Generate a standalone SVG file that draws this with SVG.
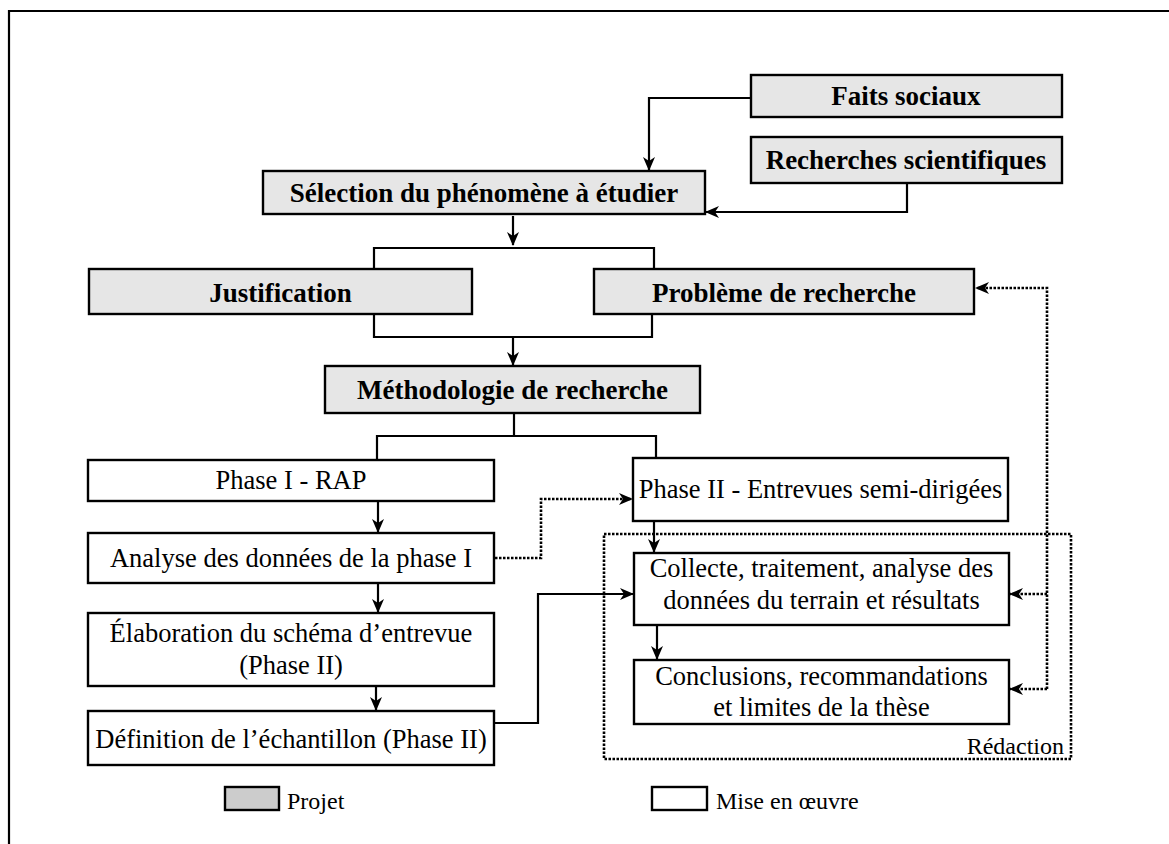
<svg xmlns="http://www.w3.org/2000/svg" width="1169" height="844" viewBox="0 0 1169 844" font-family="'Liberation Serif', 'DejaVu Serif', serif">
<style>
.p{fill:#e6e6e6;stroke:#000;stroke-width:2.4}
.m{fill:#ffffff;stroke:#000;stroke-width:2.4}
.t{font-size:26.5px;fill:#000;text-anchor:middle}
.b{font-weight:bold;font-size:27px}
.c{fill:none;stroke:#000;stroke-width:2.2}
.d{fill:none;stroke:#000;stroke-width:2.6;stroke-dasharray:2.5 1.5}
.lg{font-size:24px;fill:#000}
</style>
<defs>
<marker id="ar" viewBox="0 0 14 12" refX="13" refY="6" markerWidth="14" markerHeight="12" markerUnits="userSpaceOnUse" orient="auto">
<path d="M0,0 L14,6 L0,12 L4,6 z" fill="#000"/>
</marker>
</defs>
<rect x="0" y="0" width="1169" height="844" fill="#ffffff"/>
<path d="M9,844 V11 H1169" fill="none" stroke="#000" stroke-width="2.2"/>

<g id="faits"><rect class="p" x="751" y="75" width="311" height="42"/><text class="t b" x="906" y="105">Faits sociaux</text></g>
<g id="recherches"><rect class="p" x="751" y="137" width="311" height="46"/><text class="t b" x="906" y="169">Recherches scientifiques</text></g>
<g id="selection"><rect class="p" x="263" y="171" width="442" height="43"/><text class="t b" x="484" y="202">Sélection du phénomène à étudier</text></g>
<g id="justification"><rect class="p" x="89" y="269" width="383" height="45"/><text class="t b" x="280.5" y="302">Justification</text></g>
<g id="probleme"><rect class="p" x="594" y="269" width="380" height="45"/><text class="t b" x="784" y="302">Problème de recherche</text></g>
<g id="methodologie"><rect class="p" x="325" y="366" width="375" height="47"/><text class="t b" x="512.5" y="399">Méthodologie de recherche</text></g>
<g id="phase1"><rect class="m" x="88" y="460" width="406" height="41"/><text class="t" x="291" y="489">Phase I - RAP</text></g>
<g id="phase2"><rect class="m" x="633" y="458" width="375" height="63"/><text class="t" x="820.5" y="498">Phase II - Entrevues semi-dirigées</text></g>
<g id="analyse"><rect class="m" x="88" y="533" width="406" height="50"/><text class="t" x="291" y="567">Analyse des données de la phase I</text></g>
<g id="elaboration"><rect class="m" x="88" y="613" width="406" height="73"/><text class="t" x="291" y="642">Élaboration du schéma d’entrevue</text><text class="t" x="291" y="674">(Phase II)</text></g>
<g id="definition"><rect class="m" x="88" y="711" width="406" height="54"/><text class="t" x="291" y="748">Définition de l’échantillon (Phase II)</text></g>
<g id="redaction"><rect class="d" x="604" y="534" width="467" height="225"/><text class="lg" x="1064" y="754" text-anchor="end" font-size="22">Rédaction</text></g>
<g id="collecte"><rect class="m" x="634" y="553" width="375" height="72"/><text class="t" x="821.5" y="577">Collecte, traitement, analyse des</text><text class="t" x="821.5" y="609">données du terrain et résultats</text></g>
<g id="conclusions"><rect class="m" x="634" y="660" width="375" height="64"/><text class="t" x="821.5" y="685">Conclusions, recommandations</text><text class="t" x="821.5" y="716">et limites de la thèse</text></g>

<g id="connectors">
<path class="c" d="M751,98 H649 V170" marker-end="url(#ar)"/>
<path class="c" d="M907,183 V212 H706" marker-end="url(#ar)"/>
<path class="c" d="M513,216 V245" marker-end="url(#ar)"/>
<path class="c" d="M374,268 V248 H654 V268"/>
<path class="c" d="M374,314 V337 H652 V314"/>
<path class="c" d="M513,337 V365" marker-end="url(#ar)"/>
<path class="c" d="M514,413 V436"/>
<path class="c" d="M377,460 V436 H656 V458"/>
<path class="c" d="M378,501 V532" marker-end="url(#ar)"/>
<path class="d" d="M495,558 H541 V499 H632" marker-end="url(#ar)"/>
<path class="c" d="M378,583 V612" marker-end="url(#ar)"/>
<path class="c" d="M376,686 V710" marker-end="url(#ar)"/>
<path class="c" d="M494,723 H538 V594 H633" marker-end="url(#ar)"/>
<path class="c" d="M654,521 V552" marker-end="url(#ar)"/>
<path class="c" d="M657,625 V659" marker-end="url(#ar)"/>
<path class="d" d="M1047,689 V288 H976" marker-end="url(#ar)"/>
<path class="d" d="M1047,594 H1010" marker-end="url(#ar)"/>
<path class="d" d="M1047,689 H1010" marker-end="url(#ar)"/>
</g>

<g id="legend-projet"><rect x="225" y="787" width="54" height="23" fill="#cccccc" stroke="#000" stroke-width="2.4"/><text class="lg" x="287" y="809">Projet</text></g>
<g id="legend-mise"><rect x="652" y="787" width="55" height="23" fill="#ffffff" stroke="#000" stroke-width="2.4"/><text class="lg" x="716" y="809">Mise en œuvre</text></g>
</svg>
